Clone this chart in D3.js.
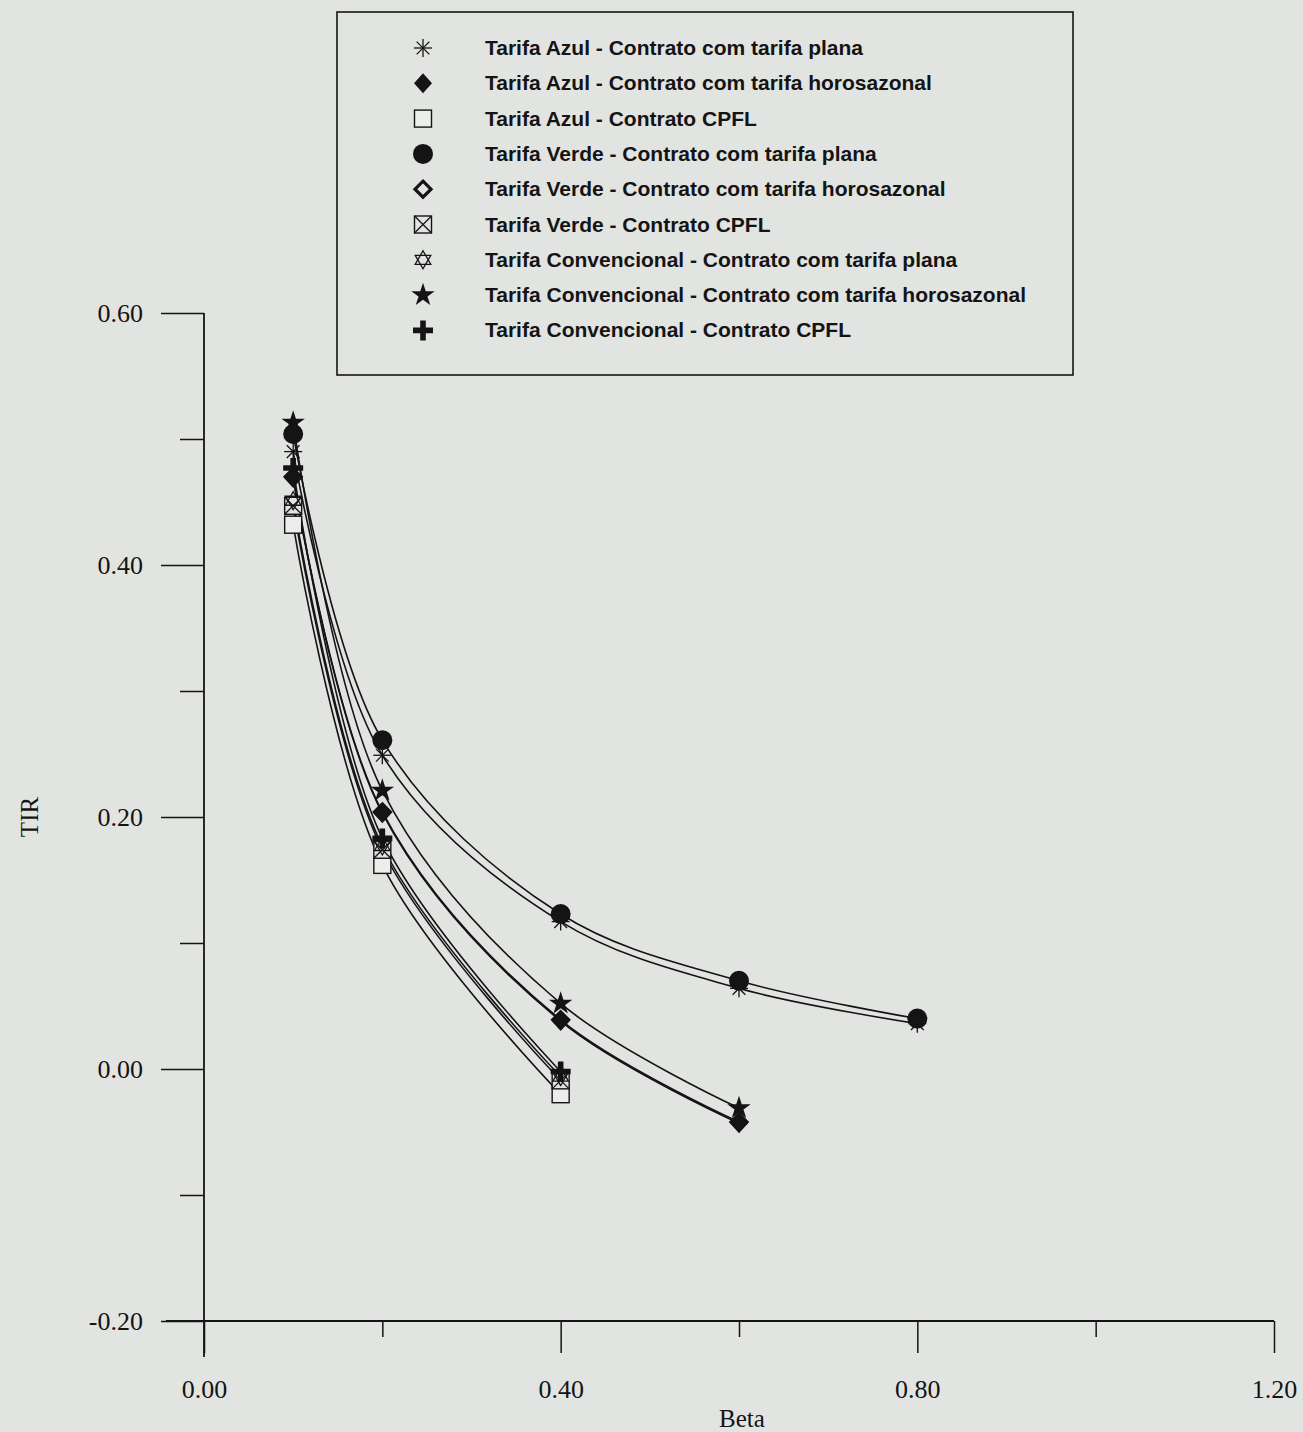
<!DOCTYPE html>
<html>
<head>
<meta charset="utf-8">
<script src="https://cdn.jsdelivr.net/npm/d3@7"></script>
<style>
  html, body { margin: 0; padding: 0; background: #e2e4e1; }
  svg { display: block; }
</style>
</head>
<body>
<svg id="chart" width="1303" height="1432"></svg>
<script>
// Beta values (x) shared by all series
const betaValues = [0.1, 0.2, 0.4, 0.6, 0.8];

// TIR by tariff / contract combination
const tirAzulPlana        = [0.490, 0.249, 0.117, 0.064, 0.036];
const tirAzulHorosazonal  = [0.469, 0.203, 0.038, -0.043];
const tirAzulCpfl         = [0.432, 0.162, -0.020];
const tirVerdePlana       = [0.504, 0.261, 0.123, 0.070, 0.040];
const tirVerdeHorosazonal = [0.470, 0.204, 0.039, -0.042];
const tirVerdeCpfl        = [0.447, 0.174, -0.009];
const tirConvPlana        = [0.451, 0.177, -0.006];
const tirConvHorosazonal  = [0.513, 0.221, 0.052, -0.031];
const tirConvCpfl         = [0.477, 0.183, -0.002];

const seriesNames = [
  "Tarifa Azul - Contrato com tarifa plana",
  "Tarifa Azul - Contrato com tarifa horosazonal",
  "Tarifa Azul - Contrato CPFL",
  "Tarifa Verde - Contrato com tarifa plana",
  "Tarifa Verde - Contrato com tarifa horosazonal",
  "Tarifa Verde - Contrato CPFL",
  "Tarifa Convencional - Contrato com tarifa plana",
  "Tarifa Convencional - Contrato com tarifa horosazonal",
  "Tarifa Convencional - Contrato CPFL"
];
const seriesValues = [
  tirAzulPlana, tirAzulHorosazonal, tirAzulCpfl,
  tirVerdePlana, tirVerdeHorosazonal, tirVerdeCpfl,
  tirConvPlana, tirConvHorosazonal, tirConvCpfl
];
const seriesMarkers = [
  "asterisk", "diamondFilled", "squareOpen",
  "circle", "diamondOpen", "squareCross",
  "starDavid", "star", "plus"
];

// Axis ticks and labels
const yMajorTicks = [-0.2, 0.0, 0.2, 0.4, 0.6];
const yMinorTicks = [-0.1, 0.1, 0.3, 0.5];
const xMajorTicks = [0.0, 0.4, 0.8, 1.2];
const xMinorTicks = [0.2, 0.6, 1.0];
const xTitle = "Beta";
const yTitle = "TIR";

const INK = "#141414";
const BG = "#e2e4e1";
const svg = d3.select("#chart");

svg.append("rect").attr("width", 1303).attr("height", 1432).attr("fill", BG);

const x = d3.scaleLinear().domain([0, 1.2]).range([204, 1274]);
const y = d3.scaleLinear().domain([-0.2, 0.6]).range([1321, 313]);

// two decimals, plain hyphen for negatives
const fmt = v => d3.format(".2f")(v).replace("\u2212", "-");

// ---- axes ----
const axisFont = "'Liberation Serif', 'Times New Roman', serif";

const yMajor = svg.append("g").attr("transform", `translate(${x(0)},0)`)
  .call(d3.axisLeft(y).tickValues(yMajorTicks).tickSize(43).tickPadding(18).tickFormat(fmt));
const yMinor = svg.append("g").attr("transform", `translate(${x(0)},0)`)
  .call(d3.axisLeft(y).tickValues(yMinorTicks).tickSize(24).tickFormat(""));
const xMajor = svg.append("g").attr("transform", `translate(0,${y(-0.2)})`)
  .call(d3.axisBottom(x).tickValues(xMajorTicks).tickSize(32).tickPadding(27).tickFormat(fmt));
const xMinor = svg.append("g").attr("transform", `translate(0,${y(-0.2)})`)
  .call(d3.axisBottom(x).tickValues(xMinorTicks).tickSize(16).tickFormat(""));

[yMajor, yMinor, xMajor, xMinor].forEach(g => {
  g.select(".domain").remove();
  g.selectAll("line").attr("stroke", INK).attr("stroke-width", 1.5);
  g.selectAll("text").attr("fill", INK).style("font-family", axisFont)
    .style("font-size", "26px");
});

// axis lines (vertical runs past the horizontal one, horizontal starts at the -0.20 tick)
svg.append("line")
  .attr("x1", x(0)).attr("x2", x(0)).attr("y1", y(0.6)).attr("y2", y(-0.2) + 36)
  .attr("stroke", INK).attr("stroke-width", 1.8);
svg.append("line")
  .attr("x1", x(0) - 38).attr("x2", x(1.2)).attr("y1", y(-0.2)).attr("y2", y(-0.2))
  .attr("stroke", INK).attr("stroke-width", 1.8);

svg.append("text").text(xTitle)
  .attr("x", 742).attr("y", 1427).attr("text-anchor", "middle")
  .attr("fill", INK).style("font-family", axisFont).style("font-size", "25px");
svg.append("text").text(yTitle)
  .attr("transform", `translate(38,${y(0.2)}) rotate(-90)`).attr("text-anchor", "middle")
  .attr("fill", INK).style("font-family", axisFont).style("font-size", "25px");

// ---- series curves ----
const line = d3.line()
  .x((d, i) => x(betaValues[i]))
  .y(d => y(d))
  .curve(d3.curveCatmullRom.alpha(0.5));

svg.append("g").selectAll("path")
  .data(seriesValues)
  .join("path")
  .attr("d", d => line(d))
  .attr("fill", "none")
  .attr("stroke", INK)
  .attr("stroke-width", 1.6);

// ---- marker shapes ----
function drawMarker(g, type) {
  const s = 9;
  switch (type) {
    case "asterisk": {
      const r = 9;
      [0, 45, 90, 135].forEach(a => {
        const rad = a * Math.PI / 180;
        g.append("line")
          .attr("x1", -r * Math.cos(rad)).attr("y1", -r * Math.sin(rad))
          .attr("x2", r * Math.cos(rad)).attr("y2", r * Math.sin(rad))
          .attr("stroke", INK).attr("stroke-width", 1.3);
      });
      break;
    }
    case "diamondFilled":
      g.append("path").attr("d", `M0,${-s - 1}L${s},0L0,${s + 1}L${-s},0Z`).attr("fill", INK);
      break;
    case "squareOpen":
      g.append("rect").attr("x", -8.5).attr("y", -8.5).attr("width", 17).attr("height", 17)
        .attr("fill", "#eceeeb").attr("stroke", INK).attr("stroke-width", 1.4);
      break;
    case "circle":
      g.append("circle").attr("r", 10).attr("fill", INK);
      break;
    case "diamondOpen":
      g.append("path").attr("d", `M0,-8L8,0L0,8L-8,0Z`)
        .attr("fill", BG).attr("stroke", INK).attr("stroke-width", 3.2);
      break;
    case "squareCross":
      g.append("rect").attr("x", -8.5).attr("y", -8.5).attr("width", 17).attr("height", 17)
        .attr("fill", BG).attr("stroke", INK).attr("stroke-width", 1.4);
      g.append("path").attr("d", "M-8.5,-8.5L8.5,8.5M8.5,-8.5L-8.5,8.5")
        .attr("stroke", INK).attr("stroke-width", 1.3);
      break;
    case "starDavid": {
      const r = 9;
      const tri = a => d3.range(3).map(k => {
        const t = (a + k * 120 - 90) * Math.PI / 180;
        return [r * Math.cos(t), r * Math.sin(t)];
      });
      [0, 180].forEach(a => {
        g.append("path").attr("d", "M" + tri(a).join("L") + "Z")
          .attr("fill", "none").attr("stroke", INK).attr("stroke-width", 1.3);
      });
      break;
    }
    case "star":
      g.append("path").attr("d", d3.symbol(d3.symbolStar, 170)()).attr("fill", INK);
      break;
    case "plus":
      g.append("path").attr("d", "M-2.8,-10H2.8V-2.8H10V2.8H2.8V10H-2.8V2.8H-10V-2.8H-2.8Z")
        .attr("fill", INK);
      break;
  }
}

// markers, drawn so overlapping series stack the same way as in the plot
const drawOrder = [4, 2, 5, 6, 8, 1, 7, 0, 3];
const markerLayer = svg.append("g");
drawOrder.forEach(si => {
  seriesValues[si].forEach((v, i) => {
    const g = markerLayer.append("g")
      .attr("transform", `translate(${x(betaValues[i])},${y(v)})`);
    drawMarker(g, seriesMarkers[si]);
  });
});

// ---- legend ----
const legend = svg.append("g");
legend.append("rect")
  .attr("x", 337).attr("y", 12).attr("width", 736).attr("height", 363)
  .attr("fill", "none").attr("stroke", INK).attr("stroke-width", 1.6);

seriesNames.forEach((name, i) => {
  const cy = 48 + i * 35.3;
  const g = legend.append("g").attr("transform", `translate(423,${cy})`);
  drawMarker(g, seriesMarkers[i]);
  legend.append("text").text(name)
    .attr("x", 485).attr("y", cy + 7)
    .attr("fill", INK)
    .style("font-family", "'Liberation Sans', Arial, sans-serif")
    .style("font-weight", "bold")
    .style("font-size", "21px");
});
</script>
</body>
</html>
